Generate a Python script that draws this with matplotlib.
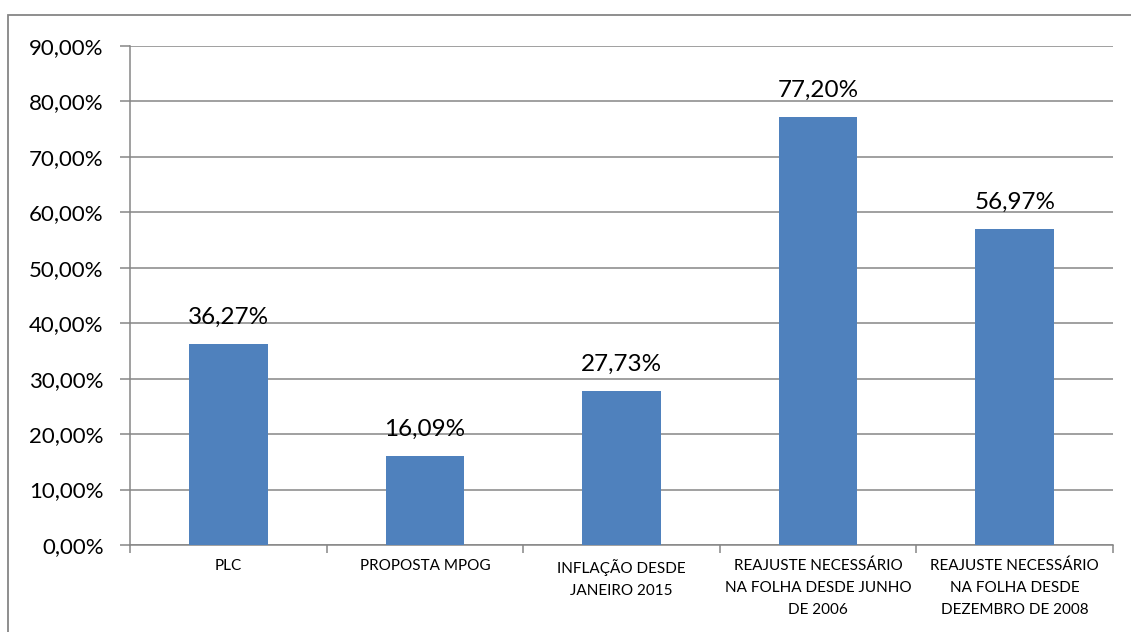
import matplotlib.pyplot as plt
import matplotlib.patches as patches
from matplotlib.ticker import FuncFormatter, MultipleLocator

# =====================================================
# DATA
# =====================================================

categories = [
    "PLC",
    "PROPOSTA MPOG",
    "INFLAÇÃO DESDE\nJANEIRO 2015",
    "REAJUSTE NECESSÁRIO\nNA FOLHA DESDE JUNHO\nDE 2006",
    "REAJUSTE NECESSÁRIO\nNA FOLHA DESDE\nDEZEMBRO DE 2008",
]
values = [36.27, 16.09, 27.73, 77.20, 56.97]

BAR_COLOR = "#4F81BD"
GRID_COLOR = "#868686"

plt.rcParams["font.family"] = ["Lato", "DejaVu Sans"]

# =====================================================
# PLOT
# =====================================================

fig = plt.figure(figsize=(11.31, 6.32), dpi=100)
W, H = 1131, 632
ax = fig.add_axes([130 / W, 1 - 545 / H, (1113 - 130) / W, (545 - 46) / H])

x = list(range(len(categories)))
ax.bar(x, values, width=0.4, color=BAR_COLOR, zorder=3)

for xi, v in zip(x, values):
    ax.text(xi, v + 2.9, f"{v:.2f}%".replace(".", ","), ha="center",
            va="bottom", fontsize=17.5, color="black")

ax.set_xlim(-0.5, len(categories) - 0.5)
ax.set_ylim(0, 90)
ax.yaxis.set_major_locator(MultipleLocator(10))
ax.yaxis.set_major_formatter(
    FuncFormatter(lambda v, p: f"{v:.2f}%".replace(".", ",")))
ax.yaxis.grid(True, color=GRID_COLOR, linewidth=1.1, zorder=0)

# category boundary ticks on x axis
ax.set_xticks([i - 0.5 for i in range(len(categories) + 1)])
ax.set_xticklabels([])
ax.set_xticks(x, minor=True)
ax.set_xticklabels(categories, minor=True, fontsize=11, linespacing=1.7)
ax.tick_params(axis="x", which="minor", length=0, pad=10)
ax.tick_params(axis="x", which="major", length=6, color=GRID_COLOR,
               width=1.1, direction="out")
ax.tick_params(axis="y", length=7, color=GRID_COLOR, width=1.1,
               labelsize=16, pad=12)

for side in ["top", "right"]:
    ax.spines[side].set_visible(False)
for side in ["left", "bottom"]:
    ax.spines[side].set_color(GRID_COLOR)
    ax.spines[side].set_linewidth(1.1)

# outer chart border
fig.patches.append(patches.Rectangle(
    (8 / W, -0.05), 1.0, 1 - 15 / H + 0.05, transform=fig.transFigure,
    fill=False, edgecolor=GRID_COLOR, linewidth=1.3))

fig.savefig("out.png", dpi=100)
